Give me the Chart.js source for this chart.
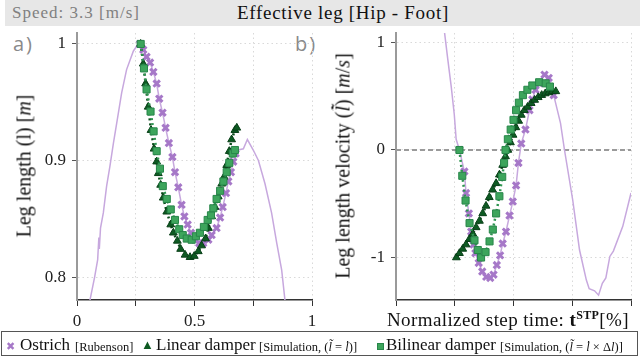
<!DOCTYPE html>
<html>
<head>
<meta charset="utf-8">
<script src="https://cdn.jsdelivr.net/npm/chart.js@4.4.0/dist/chart.umd.min.js"></script>
<style>
  body { margin: 0; width: 640px; height: 360px; background: #fff; position: relative; overflow: hidden;
         font-family: "Liberation Serif", "DejaVu Serif", serif; color: #111; }
  .abs { position: absolute; white-space: nowrap; }
  .header { left: 5px; top: 0; width: 635px; height: 26px; background: #e7e7e7; }
  .speed { left: 12px; top: 3px; font-size: 17px; line-height: 20px; letter-spacing: 1px; color: #808080; }
  .title { left: 237px; top: 2px; font-size: 19px; line-height: 22px; letter-spacing: 0.7px; }
  .panel { font-family: "Open Sans", sans-serif; font-size: 20px; letter-spacing: 2px; color: #8a8a8a; top: 30px; }
  .ytitle { font-size: 20px; transform: translate(-50%, -50%) rotate(-90deg); }
  .xtitle { left: 387px; top: 308px; font-size: 19px; letter-spacing: 0.4px; }
  .xtitle sup { font-size: 12px; }
  .legend { left: 1px; top: 331px; width: 635px; height: 23px; border: 1.5px solid #555; }
  .lg { top: 335px; font-size: 17px; line-height: 20px; }
  .lg small { font-size: 12.5px; }
  .sq { left: 377px; top: 343px; width: 5px; height: 5px; background: #3da55c; border: 1px solid #28864a; }
  canvas { position: absolute; }
</style>
</head>
<body>
<div class="abs header"></div>
<div class="abs speed">Speed: 3.3 [m/s]</div>
<div class="abs title">Effective leg [Hip - Foot]</div>
<div class="abs panel" style="left:13px">a)</div>
<div class="abs panel" style="left:295px">b)</div>

<canvas id="lenChart" width="320" height="310" style="left:0;top:25px"></canvas>
<canvas id="velChart" width="320" height="310" style="left:320px;top:25px"></canvas>

<div class="abs ytitle" style="left:24px;top:166px">Leg length (l) [<i>m</i>]</div>
<div class="abs ytitle" style="left:343px;top:166px">Leg length velocity (<i>l&#775;&#771;</i>) [<i>m</i>/<i>s</i>]</div>
<div class="abs xtitle">Normalized step time: <b>t<sup>STP</sup></b>[%]</div>

<div class="abs legend"></div>
<div class="abs lg" style="left:6px;top:336px;color:#a678c8;font-size:11px">&#10006;</div>
<div class="abs lg" style="left:20px">Ostrich</div>
<div class="abs lg" style="left:75px;top:336px"><small>[Rubenson]</small></div>
<div class="abs lg" style="left:141px;color:#0d5a22;font-size:13px">&#9650;</div>
<div class="abs lg" style="left:156px">Linear damper</div>
<div class="abs lg" style="left:259px;top:336px"><small>[Simulation, (<i>l&#771;</i> = <i>l&#775;</i>)]</small></div>
<div class="abs sq"></div>
<div class="abs lg" style="left:386px">Bilinear damper</div>
<div class="abs lg" style="left:500px;top:336px"><small>[Simulation, (<i>l&#771;</i> = <i>l&#775;</i> &times; &Delta;<i>l</i>)]</small></div>

<script>
// ---- tick values / labels
const xTicks = [0, 0.25, 0.5, 0.75, 1];
const xTickLabels = ["0", "", "0.5", "", "1"];
const lenTicks = [0.8, 0.9, 1];
const velTicks = [-1, 0, 1];

// ---- a) leg length [m], points are [step time, value]
const lenOstrichBefore = [[0.045,0.765],[0.055,0.78],[0.075,0.800],[0.088,0.815],[0.093,0.834],[0.095,0.824],[0.100,0.842],
  [0.112,0.855],[0.126,0.878],[0.140,0.895],[0.155,0.915],[0.169,0.932],[0.190,0.958],[0.211,0.978],[0.240,0.994],[0.261,1.0]];
const lenOstrich = [[0.268,1.0],[0.282,0.995],[0.296,0.989],[0.311,0.984],[0.325,0.976],[0.339,0.966],[0.350,0.953],
  [0.364,0.941],[0.377,0.928],[0.391,0.915],[0.406,0.903],[0.417,0.890],[0.431,0.877],[0.445,0.862],[0.457,0.852],
  [0.471,0.845],[0.485,0.838],[0.502,0.832],[0.520,0.829],[0.537,0.829],[0.559,0.832],[0.573,0.836],[0.594,0.842],
  [0.609,0.851],[0.620,0.860],[0.634,0.872],[0.644,0.882],[0.655,0.890],[0.665,0.899],[0.675,0.906]];
const lenOstrichAfter = [[0.686,0.909],[0.708,0.910],[0.725,0.918],[0.750,0.909],[0.772,0.900],[0.800,0.880],
  [0.828,0.855],[0.850,0.829],[0.871,0.806],[0.885,0.780],[0.893,0.765]];
const lenLinear = [[0.271,1.0],[0.282,0.983],[0.292,0.966],[0.303,0.946],[0.315,0.926],[0.328,0.910],[0.339,0.899],
  [0.346,0.889],[0.356,0.879],[0.367,0.868],[0.382,0.856],[0.399,0.845],[0.410,0.838],[0.427,0.831],[0.441,0.824],
  [0.460,0.819],[0.481,0.817],[0.499,0.818],[0.516,0.822],[0.530,0.827],[0.547,0.833],[0.559,0.842],[0.573,0.852],
  [0.587,0.860],[0.601,0.869],[0.616,0.880],[0.626,0.886],[0.637,0.896],[0.648,0.908],[0.658,0.918],[0.672,0.926],[0.680,0.928]];
const lenBilinear = [[0.271,1.0],[0.285,0.979],[0.296,0.961],[0.313,0.942],[0.326,0.925],[0.339,0.908],[0.353,0.893],
  [0.365,0.878],[0.382,0.867],[0.399,0.858],[0.417,0.849],[0.435,0.841],[0.450,0.836],[0.467,0.833],[0.488,0.832],
  [0.506,0.835],[0.523,0.838],[0.540,0.843],[0.556,0.849],[0.570,0.853],[0.580,0.859],[0.594,0.867],[0.609,0.874],
  [0.623,0.882],[0.637,0.890],[0.648,0.898],[0.663,0.906],[0.672,0.909]];

// ---- b) leg length velocity [m/s]
const velOstrichBefore = [[0.195,1.30],[0.207,1.085],[0.220,0.85],[0.235,0.59],[0.248,0.33],[0.256,0.10],[0.270,0.0]];
const velOstrich = [[0.270,0.0],[0.291,-0.20],[0.298,-0.40],[0.310,-0.59],[0.320,-0.76],[0.330,-0.88],[0.338,-0.96],
  [0.352,-1.05],[0.367,-1.13],[0.384,-1.18],[0.401,-1.19],[0.415,-1.16],[0.429,-1.07],[0.443,-0.98],[0.454,-0.87],
  [0.468,-0.76],[0.483,-0.61],[0.497,-0.48],[0.511,-0.33],[0.521,-0.12],[0.533,0.06],[0.551,0.19],[0.568,0.37],
  [0.580,0.47],[0.594,0.56],[0.611,0.62],[0.632,0.70],[0.650,0.67],[0.671,0.51]];
const velOstrichAfter = [[0.700,0.25],[0.717,0.0],[0.752,-0.465],[0.781,-0.93],[0.810,-1.21],[0.822,-1.29],[0.845,-1.31],
  [0.862,-1.35],[0.878,-1.24],[0.893,-1.19],[0.910,-0.99],[0.925,-0.94],[0.965,-0.71],[1.0,-0.40]];
const velLinear = [[0.257,-1.0],[0.270,-0.96],[0.284,-0.92],[0.298,-0.88],[0.312,-0.83],[0.327,-0.78],[0.341,-0.72],
  [0.355,-0.66],[0.369,-0.59],[0.383,-0.52],[0.397,-0.44],[0.411,-0.37],[0.426,-0.31],[0.440,-0.23],[0.454,-0.14],
  [0.466,-0.06],[0.476,0.0],[0.487,0.07],[0.498,0.14],[0.510,0.21],[0.522,0.27],[0.533,0.326],[0.546,0.37],
  [0.560,0.40],[0.575,0.435],[0.590,0.465],[0.605,0.49],[0.620,0.51],[0.635,0.525],[0.650,0.535],[0.665,0.545],[0.680,0.545]];
const velBilinear = [[0.270,0.0],[0.282,-0.24],[0.296,-0.47],[0.313,-0.68],[0.334,-0.84],[0.348,-0.93],[0.362,-1.0],
  [0.381,-0.95],[0.398,-0.85],[0.412,-0.74],[0.426,-0.59],[0.440,-0.43],[0.452,-0.25],[0.460,-0.12],[0.466,0.0],
  [0.476,0.10],[0.488,0.19],[0.500,0.28],[0.511,0.37],[0.523,0.44],[0.540,0.51],[0.559,0.56],[0.580,0.60],
  [0.609,0.63],[0.637,0.62],[0.655,0.59]];
const velZero = [[0, 0], [1, 0]];

const pts = (arr) => arr.map(([x, y]) => ({ x: x, y: y }));
const serif = "'Liberation Serif', 'DejaVu Serif', serif";

function seriesSets(ostBefore, ost, ostAfter, linear, bilinear) {
  return [
    { label: "Bilinear damper", data: pts(bilinear), showLine: true, borderColor: "#2e9450", borderWidth: 2.5,
      borderDash: [2, 3], pointStyle: "rect", pointRadius: 5, pointBackgroundColor: "#3da55c",
      pointBorderColor: "#28864a", pointBorderWidth: 1 },
    { label: "Linear damper", data: pts(linear), showLine: true, borderColor: "#0b4d1c", borderWidth: 2.5,
      borderDash: [2, 3], pointStyle: "triangle", pointRadius: 4.5, pointBackgroundColor: "#0d5a22",
      pointBorderColor: "#083f17", pointBorderWidth: 1 },
    { label: "Ostrich", data: pts(ost), showLine: false, pointStyle: "crossRot", pointRadius: 4.5,
      pointBorderColor: "#a678c8", pointBorderWidth: 3 },
    { label: "Ostrich trace", data: pts(ostBefore.concat(ost, ostAfter)), showLine: true,
      borderColor: "#c7a8de", borderWidth: 1.5, pointRadius: 0 }
  ];
}

function makePanel(id, yMin, yMax, yTicks, yWidth, padRight, datasets, showXLabels) {
  return new Chart(document.getElementById(id), {
    type: "scatter",
    data: { datasets: datasets },
    options: {
      animation: false,
      responsive: false,
      devicePixelRatio: 1,
      layout: { padding: { top: 8, right: padRight, left: 0, bottom: 0 } },
      plugins: { legend: { display: false }, tooltip: { enabled: false } },
      scales: {
        x: {
          type: "linear", min: 0, max: 1,
          afterBuildTicks: (s) => { s.ticks = xTicks.map((v) => ({ value: v })); },
          afterFit: (s) => { s.height = 35; s.paddingLeft = 0; s.paddingRight = 0; },
          ticks: { autoSkip: false, maxRotation: 0, padding: 5, color: "#222",
                   font: { family: serif, size: 17 },
                   callback: (v, i) => (showXLabels ? xTickLabels[i] : "") },
          grid: { color: "#d9d9d9", lineWidth: 1, tickColor: "#333", tickLength: 6, tickBorderDash: [] },
          border: { color: "#333", width: 1.5, dash: [1.5, 3] }
        },
        y: {
          type: "linear", min: yMin, max: yMax,
          afterBuildTicks: (s) => { s.ticks = yTicks.map((v) => ({ value: v })); },
          afterFit: (s) => { s.width = yWidth; s.paddingTop = 0; s.paddingBottom = 0; },
          ticks: { padding: 6, color: "#222", font: { family: serif, size: 17 },
                   callback: (v) => String(v) },
          grid: { color: "#d9d9d9", lineWidth: 1, tickColor: "#555", tickLength: 5, tickBorderDash: [] },
          border: { color: "#9a9a9a", width: 2, dash: [1.5, 3] }
        }
      }
    }
  });
}

makePanel("lenChart", 0.7803, 1.0094, lenTicks, 77, 8,
  seriesSets(lenOstrichBefore, lenOstrich, lenOstrichAfter, lenLinear, lenBilinear), true);

const velSets = seriesSets(velOstrichBefore, velOstrich, velOstrichAfter, velLinear, velBilinear);
velSets.push({ label: "zero", data: pts(velZero), showLine: true, borderColor: "#9a9a9a",
  borderWidth: 2, borderDash: [5, 3], pointRadius: 0 });
makePanel("velChart", -1.395, 1.088, velTicks, 76, 9, velSets, false);
</script>
</body>
</html>
